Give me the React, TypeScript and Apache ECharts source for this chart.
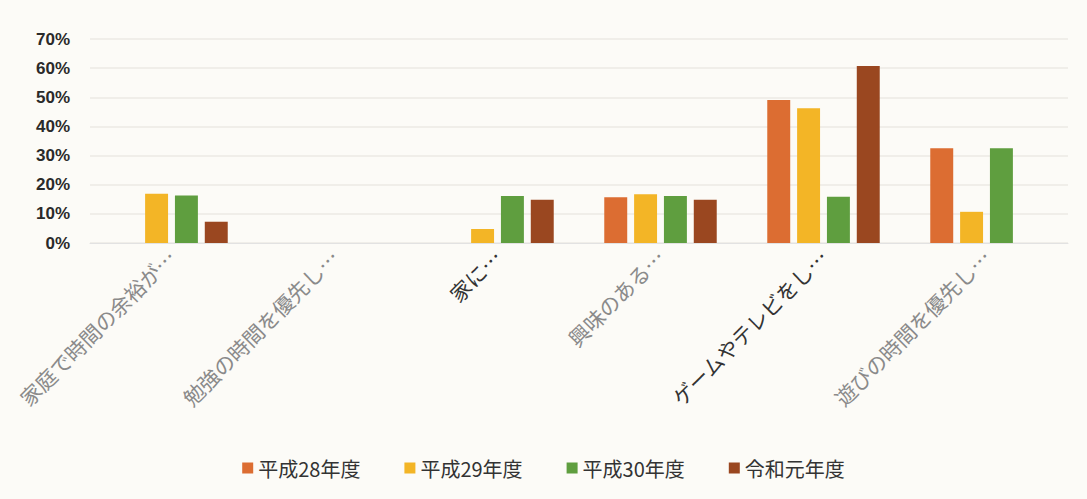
import React, { useEffect, useRef } from "react";
import * as echarts from "echarts";

const categories = [
  "家庭で時間の余裕が…",
  "勉強の時間を優先し…",
  "家に…",
  "興味のある…",
  "ゲームやテレビをし…",
  "遊びの時間を優先し…",
];
const categoryLabelColors = ["#8a8a8a", "#8a8a8a", "#333333", "#8a8a8a", "#333333", "#8a8a8a"];

const seriesNames = ["平成28年度", "平成29年度", "平成30年度", "令和元年度"];
const h28 = [0, 0, 0, 15.7, 49.1, 32.5];
const h29 = [16.9, 0, 4.8, 16.7, 46.2, 10.7];
const h30 = [16.3, 0, 16.1, 16.1, 15.9, 32.5];
const r1 = [7.3, 0, 14.8, 14.8, 60.7, 0];
const seriesColors = ["#DC6D32", "#F3B526", "#5F9E3F", "#9A4720"];

const yTicks = { min: 0, max: 70, interval: 10 };

export default function App() {
  const ref = useRef<HTMLDivElement>(null);
  useEffect(() => {
    if (!ref.current) return;
    const chart = echarts.init(ref.current, null, { renderer: "svg" });
    const values = [h28, h29, h30, r1];
    chart.setOption({
      animation: false,
      backgroundColor: "#FCFBF7",
      textStyle: { fontFamily: "Noto Sans CJK JP" },
      grid: { left: 90, right: 19, top: 39, bottom: 256, containLabel: false },
      legend: {
        bottom: 16,
        left: "center",
        icon: "rect",
        itemWidth: 11,
        itemHeight: 11,
        itemGap: 44,
        textStyle: { fontSize: 20, color: "#333333", fontFamily: "Noto Sans CJK JP" },
        data: seriesNames,
      },
      xAxis: {
        type: "category",
        data: categories.map((c, i) => ({ value: c, textStyle: { color: categoryLabelColors[i] } })),
        axisLine: { show: true, lineStyle: { color: "#E2E2E2" } },
        axisTick: { show: false },
        axisLabel: {
          rotate: 45,
          interval: 0,
          margin: 10,
          fontSize: 21,
          fontFamily: "Noto Sans CJK JP",
        },
      },
      yAxis: {
        type: "value",
        min: yTicks.min,
        max: yTicks.max,
        interval: yTicks.interval,
        axisLine: { show: false },
        axisTick: { show: false },
        splitLine: { lineStyle: { color: "#ECEAE4", width: 1.5 } },
        axisLabel: {
          formatter: "{value}%",
          fontSize: 17,
          fontWeight: "bold",
          color: "#2a2a2a",
          margin: 20,
          fontFamily: "Liberation Sans",
        },
      },
      series: seriesNames.map((name, i) => ({
        name,
        type: "bar",
        data: values[i],
        barGap: "30%",
        barCategoryGap: "31%",
        itemStyle: { color: seriesColors[i] },
      })),
    });
    return () => chart.dispose();
  }, []);
  return (
    <div
      ref={ref}
      style={{ position: "fixed", left: 0, top: 0, width: 1087, height: 499 }}
    />
  );
}
